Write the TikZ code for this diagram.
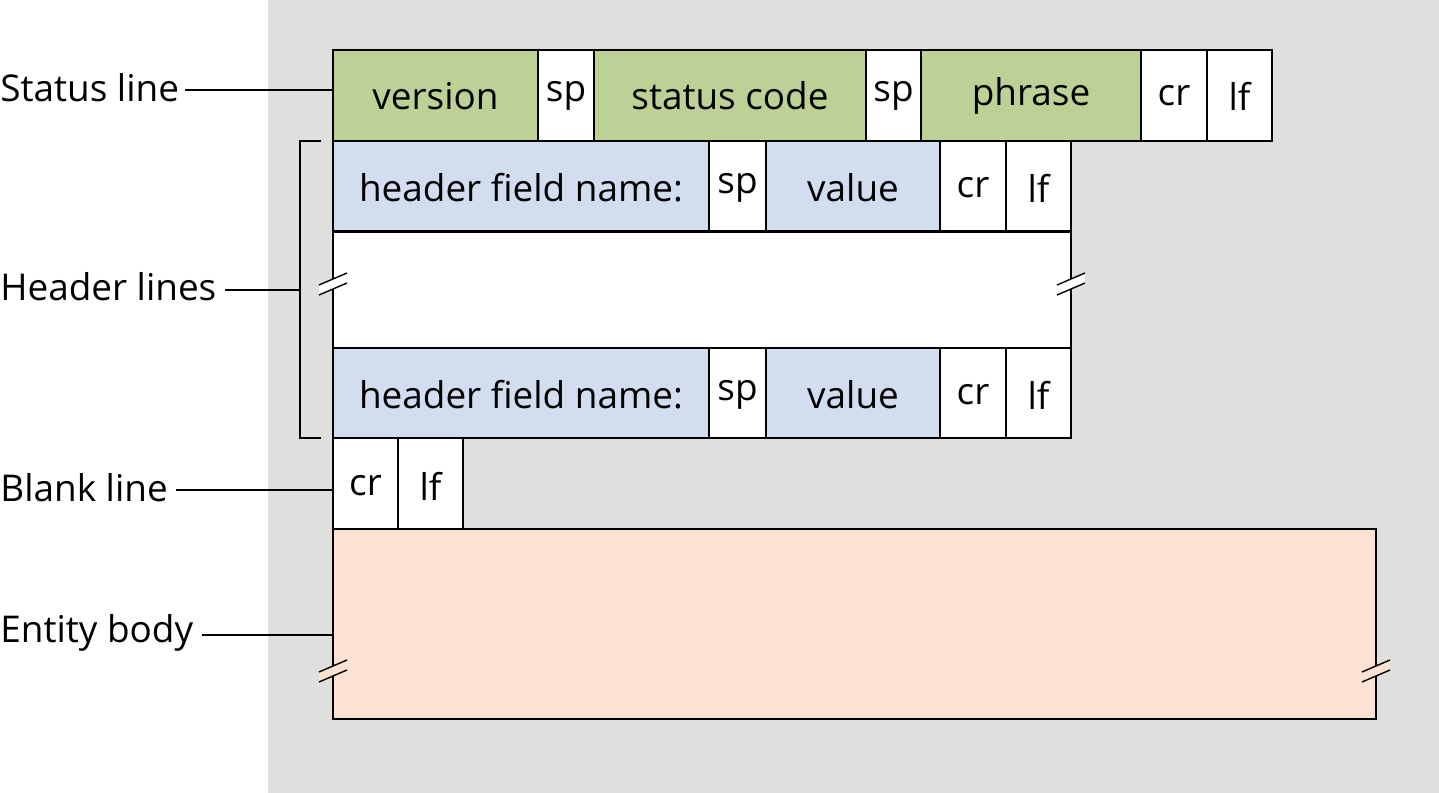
\documentclass[tikz,border=0pt]{standalone}
\usepackage{fontspec}
\setmainfont{Open Sans}
\definecolor{bg}{RGB}{224,223,222}
\definecolor{grn}{RGB}{189,209,151}
\definecolor{blu}{RGB}{210,222,240}
\definecolor{pch}{RGB}{252,226,210}
\begin{document}
\begin{tikzpicture}[x=0.02cm,y=-0.02cm,
  lbl/.style={font=\fontsize{21pt}{24pt}\selectfont,inner sep=0pt},
  cell/.style={draw=black,line width=0.8pt},
  brk/.style={line width=0.8pt}]
\useasboundingbox (0,0) rectangle (1439,793);
\fill[bg] (268,0) rectangle (1439,793);
\newcommand{\cellbox}[6]{% name,x1,y1,x2,y2,fill,text
  \draw[cell,fill=#6] (#2,#3) rectangle (#4,#5);}
% status line
\foreach \a/\b/\c/\t [count=\i] in {333/538/grn/version,538/594/white/sp,594/866/grn/status code,866/921/white/sp,921/1141/grn/phrase,1141/1207/white/cr,1207/1272/white/lf}{
  \draw[cell,fill=\c] (\a,50) rectangle (\b,141);
  \node[lbl] (s\i) at ({(\a+\b)/2},96) {\t};}
% header rows
\foreach \y/\r in {141/h,348/g}{
\foreach \a/\b/\c/\t [count=\i] in {333/709/blu/header field name:,709/766/white/sp,766/940/blu/value,940/1006/white/cr,1006/1071/white/lf}{
  \draw[cell,fill=\c] (\a,\y) rectangle (\b,\y+90);
  \node[lbl] (\r\i) at ({(\a+\b)/2},\y+47) {\t};}}
\draw[cell,fill=white] (333,232) rectangle (1071,348);
% blank line
\foreach \a/\b/\t [count=\i] in {333/398/cr,398/463/lf}{
  \draw[cell,fill=white] (\a,438) rectangle (\b,529);
  \node[lbl] (b\i) at ({(\a+\b)/2},486) {\t};}
% entity body
\draw[cell,fill=pch] (333,529) rectangle (1376,719);
% break marks
\foreach \x/\y/\f in {333/284/white,1071/284/white,333/671/pch,1376/671/pch}{
  \fill[\f] (\x-14,\y+1) -- (\x+14,\y-11) -- (\x+14,\y-1) -- (\x-14,\y+11) -- cycle;
  \draw[brk] (\x-14,\y+1) -- (\x+14,\y-11);
  \draw[brk] (\x-14,\y+11) -- (\x+14,\y-1);}
% labels
\node[lbl,anchor=west] (L1) at (0,88) {Status line};
\node[lbl,anchor=west] (L2) at (0,287) {Header lines};
\node[lbl,anchor=west] (L3) at (0,488) {Blank line};
\node[lbl,anchor=west] (L4) at (0,633) {Entity body};
\coordinate (c1) at (333,90);
\coordinate (c2) at (300,290);
\coordinate (c3) at (333,490);
\coordinate (c4) at (333,635);
\draw[line width=0.8pt] (L1.east)+(6,2) -- (c1);
\draw[line width=0.8pt] (L2.east)+(8,3) -- (c2);
\draw[line width=0.8pt] (L3.east)+(8,2) -- (c3);
\draw[line width=0.8pt] (L4.east)+(8,2) -- (c4);
\draw[line width=0.8pt] (321,141) -- (300,141) -- (300,438) -- (321,438);
\end{tikzpicture}
\end{document}
